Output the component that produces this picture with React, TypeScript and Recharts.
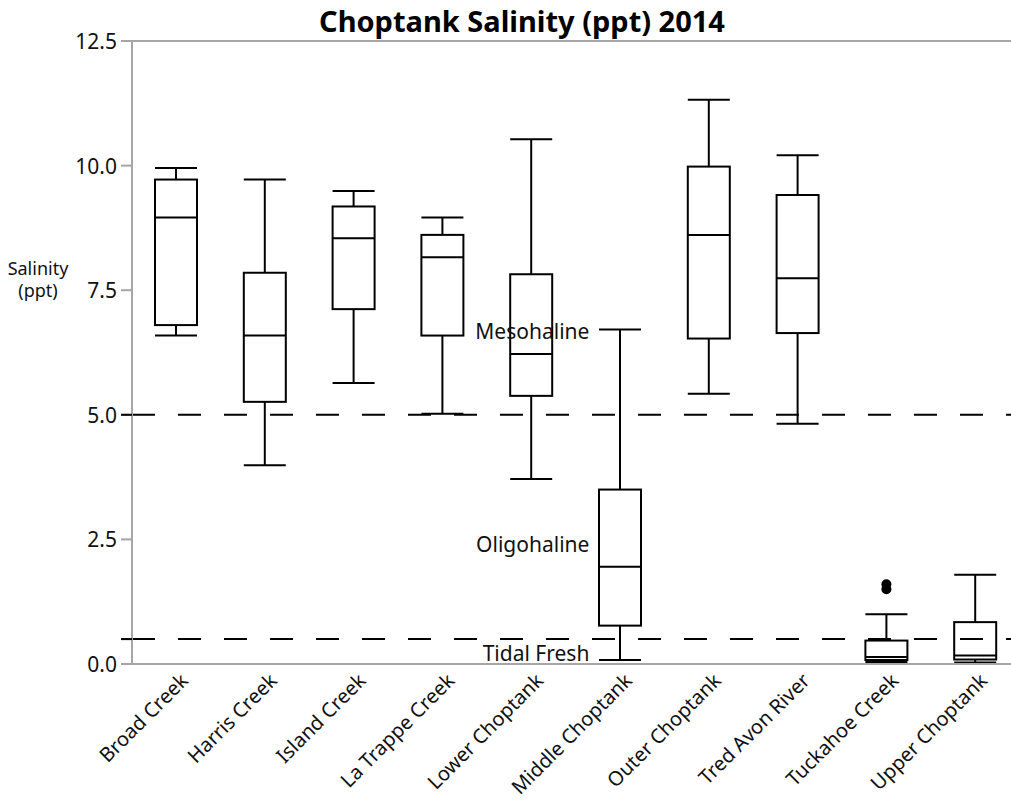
import React from "react";
import { Bar, ComposedChart, ReferenceDot, ReferenceLine, XAxis, YAxis } from "recharts";

const sites = [
  "Broad Creek",
  "Harris Creek",
  "Island Creek",
  "La Trappe Creek",
  "Lower Choptank",
  "Middle Choptank",
  "Outer Choptank",
  "Tred Avon River",
  "Tuckahoe Creek",
  "Upper Choptank",
];
const lowerWhisker = [6.59, 3.99, 5.64, 5.02, 3.71, 0.08, 5.42, 4.82, 0.04, 0.03];
const q1 = [6.8, 5.26, 7.12, 6.59, 5.38, 0.77, 6.53, 6.64, 0.08, 0.09];
const medians = [8.96, 6.59, 8.54, 8.16, 6.22, 1.95, 8.61, 7.74, 0.14, 0.17];
const q3 = [9.72, 7.85, 9.18, 8.61, 7.82, 3.5, 9.98, 9.41, 0.47, 0.84];
const upperWhisker = [9.95, 9.72, 9.49, 8.96, 10.53, 6.71, 11.32, 10.21, 1.0, 1.79];
const outliers: number[][] = [[], [], [], [], [], [], [], [], [1.5, 1.6], []];

const yTicks = [0, 0.5, 2.5, 5, 7.5, 10, 12.5];
const zoneLines = [5, 0.5];
const zoneLabels = [
  { text: "Mesohaline", value: 6.67 },
  { text: "Oligohaline", value: 2.39 },
  { text: "Tidal Fresh", value: 0.2 },
];

const data = sites.map((site, i) => ({
  site,
  lower: lowerWhisker[i],
  q1: q1[i],
  median: medians[i],
  q3: q3[i],
  upper: upperWhisker[i],
  outliers: outliers[i],
}));

const FONT = '"Noto Sans", "Open Sans", sans-serif';
const AXIS_GRAY = "#a6a6a6";
const TEXT = "#111";

function BoxShape(props: any) {
  const { x, y, width, height, payload } = props;
  const top = Math.min(y, y + height);
  const bottom = Math.max(y, y + height);
  const span = payload.upper - payload.lower || 1;
  const py = (v: number) => bottom - ((bottom - top) * (v - payload.lower)) / span;
  const cx = x + width / 2;
  const s = { stroke: "#000", strokeWidth: 2 };
  return (
    <g>
      <line x1={cx} x2={cx} y1={py(payload.upper)} y2={py(payload.q3)} {...s} />
      <line x1={cx} x2={cx} y1={py(payload.q1)} y2={py(payload.lower)} {...s} />
      <line x1={x} x2={x + width} y1={py(payload.upper)} y2={py(payload.upper)} {...s} />
      <line x1={x} x2={x + width} y1={py(payload.lower)} y2={py(payload.lower)} {...s} />
      <rect x={x} y={py(payload.q3)} width={width} height={py(payload.q1) - py(payload.q3)} fill="none" {...s} />
      <line x1={x} x2={x + width} y1={py(payload.median)} y2={py(payload.median)} {...s} />
      {payload.outliers.map((o: number, k: number) => (
        <circle key={k} cx={cx} cy={py(o)} r={5} fill="#000" />
      ))}
    </g>
  );
}

function YTick(props: any) {
  const { x, y, payload } = props;
  const v = payload.value;
  const label =
    v === 0.5 ? null : (
      <text x={x - 1} y={y} textAnchor="end" dominantBaseline="central" fontSize={21} fill={TEXT} fontFamily={FONT}>
        {v.toFixed(1)}
      </text>
    );
  return (
    <g>
      {zoneLines.includes(v) ? <line x1={x + 3} x2={x + 14} y1={y} y2={y} stroke="#000" strokeWidth={2} /> : null}
      {label}
    </g>
  );
}

function XTick(props: any) {
  const { x, y, payload } = props;
  const ax = x + 13;
  const ay = y + 10;
  return (
    <text x={ax} y={ay} transform={`rotate(-45 ${ax} ${ay})`} textAnchor="end" fontSize={20} fill={TEXT} fontFamily={FONT}>
      {payload.value}
    </text>
  );
}

export default function App() {
  return (
    <div style={{ position: "fixed", left: 0, top: 0, width: 1011, height: 803, overflow: "hidden", background: "#fff", fontFamily: FONT }}>
      <div style={{ position: "absolute", left: 0, width: 1044, top: 1, textAlign: "center", fontWeight: 700, fontSize: 29, color: "#000" }}>
        Choptank Salinity (ppt) 2014
      </div>
      <div style={{ position: "absolute", left: 0, width: 76, top: 257, textAlign: "center", fontSize: 18, lineHeight: "22px", color: TEXT }}>
        Salinity
        <br />
        (ppt)
      </div>
      <ComposedChart width={1022} height={803} data={data} margin={{ top: 41, right: 2, bottom: 9, left: 72 }}>
        <XAxis
          dataKey="site"
          interval={0}
          height={130}
          tickLine={false}
          axisLine={{ stroke: AXIS_GRAY, strokeWidth: 2 }}
          tick={<XTick />}
        />
        <YAxis
          width={60}
          domain={[0, 12.5]}
          ticks={yTicks}
          interval={0}
          tickSize={11}
          tickMargin={3}
          tickLine={{ stroke: AXIS_GRAY, strokeWidth: 2 }}
          axisLine={{ stroke: AXIS_GRAY, strokeWidth: 2 }}
          tick={<YTick />}
        />
        <ReferenceLine y={12.5} stroke={AXIS_GRAY} strokeWidth={2} />
        {zoneLines.map((v) => (
          <ReferenceLine key={v} y={v} stroke="#000" strokeWidth={2} strokeDasharray="23 23" />
        ))}
        {zoneLabels.map((z) => (
          <ReferenceDot
            key={z.text}
            x="Middle Choptank"
            y={z.value}
            r={1}
            fill="none"
            stroke="none"
            label={{ value: z.text, position: "left", offset: 30, fill: TEXT, fontSize: 21, fontFamily: FONT }}
          />
        ))}
        <Bar dataKey={(d: any) => [d.lower, d.upper]} barSize={42} isAnimationActive={false} shape={(p: any) => <BoxShape {...p} />} />
      </ComposedChart>
    </div>
  );
}
